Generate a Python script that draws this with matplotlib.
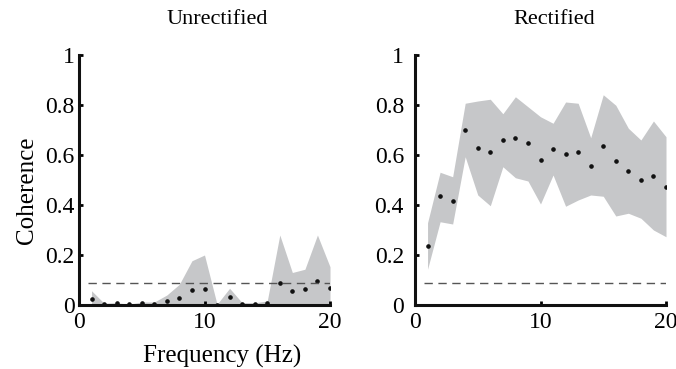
import numpy as np
import matplotlib
matplotlib.use('Agg')
from matplotlib import pyplot as plt

plt.rcParams['font.family'] = ['Liberation Serif', 'DejaVu Serif']

freq = np.arange(1, 21)

# unrectified: mean coherence and band
unrect_mean = [0.023, 0.004, 0.007, 0.003, 0.007, 0.005, 0.015, 0.029, 0.061, 0.065,
               0.002, 0.031, 0.005, 0.005, 0.007, 0.088, 0.057, 0.064, 0.097, 0.068]
unrect_hi = [0.057, 0.007, 0.009, 0.003, 0.012, 0.012, 0.04, 0.083, 0.177, 0.2,
             0.003, 0.067, 0.009, 0.009, 0.016, 0.28, 0.13, 0.143, 0.28, 0.153]
unrect_lo = [0.0] * 20

# rectified
rect_mean = [0.235, 0.435, 0.416, 0.699, 0.628, 0.611, 0.66, 0.669, 0.649, 0.581,
             0.624, 0.604, 0.613, 0.555, 0.636, 0.577, 0.535, 0.499, 0.516, 0.471]
rect_hi = [0.329, 0.531, 0.513, 0.807, 0.816, 0.823, 0.765, 0.833, 0.793, 0.753,
           0.727, 0.812, 0.807, 0.669, 0.841, 0.799, 0.707, 0.66, 0.736, 0.673]
rect_lo = [0.143, 0.333, 0.324, 0.593, 0.44, 0.397, 0.553, 0.509, 0.496, 0.404,
           0.52, 0.395, 0.42, 0.44, 0.435, 0.356, 0.367, 0.347, 0.3, 0.273]

sig_level = 0.089

fig = plt.figure(figsize=(6.76, 3.69), dpi=100)
ax1 = fig.add_axes([79/676, 1-305/369, 251/676, 250/369])
ax2 = fig.add_axes([415/676, 1-305/369, 251/676, 250/369])

for ax, m, lo, hi in [(ax1, unrect_mean, unrect_lo, unrect_hi),
                      (ax2, rect_mean, rect_lo, rect_hi)]:
    ax.fill_between(freq, lo, hi, color='#c6c7c9', lw=0)
    ax.plot(freq, m, 'o', color='#111111', ms=2.3)
    ax.plot([0.7, 20], [sig_level, sig_level], '--', color='#555555', lw=1.0,
            dashes=(6, 4))
    ax.set_xlim(0, 20)
    ax.set_ylim(0, 1)
    ax.set_xticks([0, 10, 20])
    ax.set_yticks([0, 0.2, 0.4, 0.6, 0.8, 1])
    ax.set_yticklabels(['0', '0.2', '0.4', '0.6', '0.8', '1'])
    for s in ['top', 'right']:
        ax.spines[s].set_visible(False)
    for s in ['left', 'bottom']:
        ax.spines[s].set_linewidth(2.2)
        ax.spines[s].set_color('#111111')
    ax.tick_params(direction='in', length=3, width=2, labelsize=17)
    ax.tick_params(axis='x', pad=5)

ax1.tick_params(axis='y', pad=3)
ax2.tick_params(axis='y', pad=8)

ax1.set_ylabel('Coherence', fontsize=18)
ax1.yaxis.set_label_coords(-0.165, 0.46)
ax1.set_xlabel('Frequency (Hz)', fontsize=18)
ax1.xaxis.set_label_coords(0.57, -0.16)

fig.text(217/676, 1-19/369, 'Unrectified', ha='center', va='center', fontsize=16)
fig.text(554/676, 1-19/369, 'Rectified', ha='center', va='center', fontsize=16)

fig.savefig('out.png', dpi=100)
